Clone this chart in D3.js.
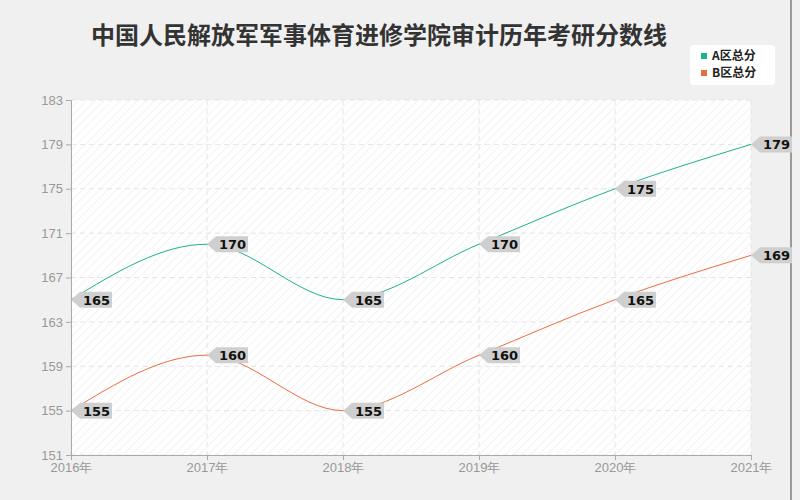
<!DOCTYPE html>
<html lang="zh">
<head>
<meta charset="UTF-8">
<script src="https://d3js.org/d3.v7.min.js"></script>
<style>body{margin:0;background:#f0f0f0;font-family:"Noto Sans CJK SC","Noto Sans",sans-serif;}</style>
</head>
<body>
<script>
// chart data
const years = ['2016年', '2017年', '2018年', '2019年', '2020年', '2021年'];
const seriesA = [165, 170, 165, 170, 175, 179];
const seriesB = [155, 160, 155, 160, 165, 169];
const yTicks = [151, 155, 159, 163, 167, 171, 175, 179, 183];
const names = ['A区总分', 'B区总分'];
const colors = ['#1db488', '#e8703f'];

const W = 800, H = 500;
const m = { l: 71, r: 49, t: 100, b: 45 };
const svg = d3.select('body').append('svg').attr('width', W).attr('height', H);

const defs = svg.append('defs');
const pat = defs.append('pattern').attr('id', 'hatch').attr('width', 6).attr('height', 6)
    .attr('patternUnits', 'userSpaceOnUse').attr('patternTransform', 'rotate(45)');
pat.append('rect').attr('width', 6).attr('height', 6).attr('fill', '#fff');
pat.append('line').attr('x1', 0).attr('y1', 0).attr('x2', 0).attr('y2', 6).attr('stroke', '#f3f3f3').attr('stroke-width', 2);

svg.append('rect').attr('x', 0).attr('y', 0).attr('width', W - 1).attr('height', H).attr('fill', '#f0f0f0');
svg.append('line').attr('x1', W - 9).attr('x2', W - 9).attr('y1', 0).attr('y2', H).attr('stroke', '#444').attr('stroke-width', 1);

const x = d3.scalePoint().domain(years).range([m.l, W - m.r]);
const y = d3.scaleLinear().domain([151, 183]).range([H - m.b, m.t]);

svg.append('rect').attr('x', m.l).attr('y', m.t).attr('width', W - m.r - m.l).attr('height', H - m.b - m.t)
    .attr('fill', 'url(#hatch)');

// grid
svg.append('g').selectAll('line').data(yTicks).join('line')
    .attr('x1', m.l).attr('x2', W - m.r).attr('y1', d => y(d)).attr('y2', d => y(d))
    .attr('stroke', '#e4e4e4').attr('stroke-dasharray', '5,4');
svg.append('g').selectAll('line').data(years).join('line')
    .attr('y1', m.t).attr('y2', H - m.b).attr('x1', d => x(d)).attr('x2', d => x(d))
    .attr('stroke', '#e4e4e4').attr('stroke-dasharray', '5,4');

// axes
const ya = svg.append('g').attr('transform', `translate(${m.l},0)`)
    .call(d3.axisLeft(y).tickValues(yTicks).tickSize(5));
const xa = svg.append('g').attr('transform', `translate(0,${H - m.b})`)
    .call(d3.axisBottom(x).tickSize(5));
[ya, xa].forEach(a => {
    a.selectAll('path,line').attr('stroke', '#aaa');
    a.selectAll('text').attr('fill', '#999').style('font-size', '13px');
});

// lines + labels
const line = d3.line().x((d, i) => x(years[i])).y(d => y(d)).curve(d3.curveMonotoneX);
[seriesA, seriesB].forEach((s, k) => {
    svg.append('path').datum(s).attr('d', line).attr('fill', 'none')
        .attr('stroke', colors[k]).attr('stroke-width', 1);
    const g = svg.append('g').selectAll('g').data(s).join('g')
        .attr('transform', (d, i) => `translate(${x(years[i])},${y(d)})`);
    g.append('path').attr('d', 'M0,0 L9,-8 H41 V8 H9 Z').attr('fill', '#cfcfcf');
    g.append('text').attr('x', 12).attr('y', 5).text(d => d)
        .attr('fill', '#111').style('font-size', '13px').style('font-weight', 'bold')
        .style('font-family', 'DejaVu Sans, sans-serif');
});

// title
svg.append('text').attr('x', 379).attr('y', 44).attr('text-anchor', 'middle')
    .style('font-size', '24px').style('font-weight', 'bold').attr('fill', '#333')
    .text('中国人民解放军军事体育进修学院审计历年考研分数线');

// legend
const lg = svg.append('g').attr('transform', 'translate(690,45)');
lg.append('rect').attr('width', 85).attr('height', 40).attr('rx', 4).attr('fill', '#fff');
names.forEach((n, i) => {
    lg.append('rect').attr('x', 11).attr('y', 8 + i * 17).attr('width', 6).attr('height', 6).attr('fill', colors[i]);
    lg.append('text').attr('x', 22).attr('y', 15 + i * 17).text(n)
        .style('font-size', '12px').style('font-weight', 'bold').attr('fill', '#222');
});
</script>
</body>
</html>
